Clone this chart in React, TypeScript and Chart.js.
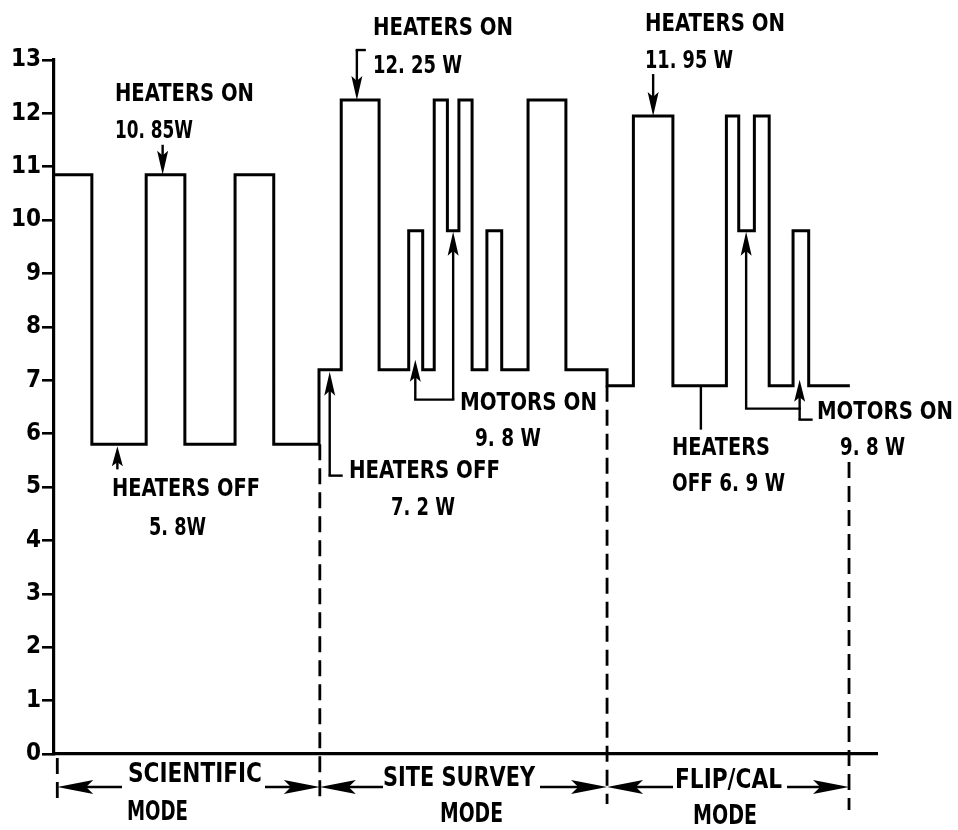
import React, { useEffect, useRef } from 'react';
import { Chart, registerables } from 'chart.js';

Chart.register(...registerables);

// ---------- DATA ----------
// Y axis tick labels (watts)
const Y_TICKS = [0, 1, 2, 3, 4, 5, 6, 7, 8, 9, 10, 11, 12, 13];

// Time (arbitrary units, 0..100) at which each power level begins
const STEP_TIMES = [
  0, 4.6, 11.2, 15.9, 22.0, 26.7,
  32.2, 34.9, 39.5, 43.1, 44.8, 46.2, 47.8, 49.2, 50.8, 52.6, 54.4, 57.6, 62.2,
  67.2, 70.4, 75.2, 81.7, 83.2, 85.1, 86.9, 89.8, 91.7, 96.7,
];

// Power level (W) beginning at each of the above times
const POWER_W = [
  10.85, 5.8, 10.85, 5.8, 10.85, 5.8,
  7.2, 12.25, 7.2, 9.8, 7.2, 12.25, 9.8, 12.25, 7.2, 9.8, 7.2, 12.25, 7.2,
  6.9, 11.95, 6.9, 11.95, 9.8, 11.95, 6.9, 9.8, 6.9, 6.9,
];

// Mode boundaries (time units) and names
const MODE_BOUNDS = [0.4, 32.3, 67.2, 96.6];
const MODE_NAMES = ['SCIENTIFIC', 'SITE SURVEY', 'FLIP/CAL'];
const MODE_SUB = 'MODE';

// Levels annotated
const HEATERS_ON_SCI = 10.85;
const HEATERS_OFF_SCI = 5.8;
const HEATERS_ON_SITE = 12.25;
const HEATERS_OFF_SITE = 7.2;
const MOTORS_ON = 9.8;
const HEATERS_ON_FLIP = 11.95;
const HEATERS_OFF_FLIP = 6.9;

const FONT = '"DejaVu Sans Condensed", "DejaVu Sans", sans-serif';

function fitText(ctx: CanvasRenderingContext2D, text: string, left: number, cy: number, width: number, size: number) {
  ctx.save();
  ctx.font = `bold ${size}px ${FONT}`;
  ctx.textBaseline = 'alphabetic';
  ctx.textAlign = 'left';
  const w = ctx.measureText(text).width;
  ctx.translate(left, cy + (size * 0.729) / 2);
  ctx.scale(width / w, 1);
  ctx.fillText(text, 0, 0);
  ctx.restore();
}

function poly(ctx: CanvasRenderingContext2D, pts: number[][]) {
  ctx.beginPath();
  ctx.moveTo(pts[0][0], pts[0][1]);
  for (let i = 1; i < pts.length; i++) ctx.lineTo(pts[i][0], pts[i][1]);
  ctx.stroke();
}

function arrow(ctx: CanvasRenderingContext2D, x1: number, y1: number, x2: number, y2: number, len: number, hw: number) {
  const a = Math.atan2(y2 - y1, x2 - x1);
  const c = Math.cos(a), s = Math.sin(a);
  poly(ctx, [[x1, y1], [x2 - c * len * 0.5, y2 - s * len * 0.5]]);
  const bx = x2 - c * len, by = y2 - s * len;
  const px = -s * hw, py = c * hw;
  ctx.beginPath();
  ctx.moveTo(x2, y2);
  ctx.lineTo(bx + px, by + py);
  ctx.lineTo(x2 - c * len * 0.8, y2 - s * len * 0.8);
  ctx.lineTo(bx - px, by - py);
  ctx.closePath();
  ctx.fill();
}

const annotationPlugin = {
  id: 'annotations',
  afterDraw(chart: any) {
    const ctx: CanvasRenderingContext2D = chart.ctx;
    const xs = chart.scales.x;
    const ys = chart.scales.y;
    const X = (t: number) => xs.getPixelForValue(t);
    const Y = (v: number) => ys.getPixelForValue(v);
    const bottom = chart.chartArea.bottom;
    ctx.save();
    ctx.strokeStyle = '#000';
    ctx.fillStyle = '#000';
    ctx.lineWidth = 2.4;
    ctx.lineCap = 'butt';

    const F = 25;
    const AL = 24, AW = 5.5;
    // 1. Scientific heaters on
    fitText(ctx, 'HEATERS ON', X(7.41), Y(12.40), 139, F);
    fitText(ctx, '10. 85W', X(7.41), Y(11.71), 78, F);
    arrow(ctx, X(13.2), Y(HEATERS_ON_SCI) - 30, X(13.2), Y(HEATERS_ON_SCI), AL, AW);
    // 2. Scientific heaters off
    fitText(ctx, 'HEATERS OFF', X(7.05), Y(5.0), 148, F);
    fitText(ctx, '5. 8W', X(11.54), Y(4.27), 57, F);
    arrow(ctx, X(7.7), Y(HEATERS_OFF_SCI) + 25, X(7.7), Y(HEATERS_OFF_SCI) + 2, 20, AW);
    // 3. Site survey heaters on
    fitText(ctx, 'HEATERS ON', X(38.76), Y(13.64), 140, F);
    fitText(ctx, '12. 25 W', X(38.76), Y(12.93), 89, F);
    poly(ctx, [[X(36.8) + 9, Y(HEATERS_ON_SITE) - 50], [X(36.8) - 1.2, Y(HEATERS_ON_SITE) - 50]]);
    arrow(ctx, X(36.8), Y(HEATERS_ON_SITE) - 50, X(36.8), Y(HEATERS_ON_SITE), AL, AW);
    // 4. Site survey heaters off
    fitText(ctx, 'HEATERS OFF', X(35.84), Y(5.34), 151, F);
    fitText(ctx, '7. 2 W', X(40.95), Y(4.65), 64, F);
    poly(ctx, [[X(33.5) + 13, Y(HEATERS_OFF_SITE) + 106], [X(33.5) - 1.2, Y(HEATERS_OFF_SITE) + 106]]);
    arrow(ctx, X(33.5), Y(HEATERS_OFF_SITE) + 106, X(33.5), Y(HEATERS_OFF_SITE) + 2, AL, AW);
    // 5. Site survey motors on
    fitText(ctx, 'MOTORS ON', X(49.33), Y(6.61), 137, F);
    fitText(ctx, '9. 8 W', X(51.15), Y(5.94), 66, F);
    poly(ctx, [[X(43.9) - 1.2, Y(HEATERS_OFF_SITE) + 30], [X(48.5) + 1.2, Y(HEATERS_OFF_SITE) + 30]]);
    arrow(ctx, X(43.9), Y(HEATERS_OFF_SITE) + 30, X(43.9), Y(HEATERS_OFF_SITE) - 10, 22, AW);
    arrow(ctx, X(48.5), Y(HEATERS_OFF_SITE) + 30, X(48.5), Y(MOTORS_ON) + 1, AL, AW);
    // 6. Flip/cal heaters on
    fitText(ctx, 'HEATERS ON', X(71.81), Y(13.71), 140, F);
    fitText(ctx, '11. 95 W', X(71.81), Y(13.02), 88, F);
    arrow(ctx, X(72.8), Y(HEATERS_ON_FLIP) - 42, X(72.8), Y(HEATERS_ON_FLIP), AL, AW);
    // 7. Flip/cal heaters off
    fitText(ctx, 'HEATERS', X(75.09), Y(5.77), 98, F);
    fitText(ctx, 'OFF 6. 9 W', X(75.09), Y(5.10), 113, F);
    poly(ctx, [[X(78.6), Y(HEATERS_OFF_FLIP)], [X(78.6), Y(HEATERS_OFF_FLIP) + 44]]);
    // 8. Flip/cal motors on
    fitText(ctx, 'MOTORS ON', X(92.71), Y(6.44), 136, F);
    fitText(ctx, '9. 8 W', X(95.5), Y(5.77), 65, F);
    poly(ctx, [[X(84.1) - 1.2, Y(HEATERS_OFF_FLIP) + 23], [X(90.6) + 1.2, Y(HEATERS_OFF_FLIP) + 23]]);
    arrow(ctx, X(84.1), Y(HEATERS_OFF_FLIP) + 23, X(84.1), Y(MOTORS_ON) + 1, AL, AW);
    poly(ctx, [[X(90.6) - 1.2, Y(HEATERS_OFF_FLIP) + 34], [X(90.6) + 13, Y(HEATERS_OFF_FLIP) + 34]]);
    arrow(ctx, X(90.6), Y(HEATERS_OFF_FLIP) + 34, X(90.6), Y(HEATERS_OFF_FLIP) - 6, 22, AW);

    // Dashed mode boundaries
    ctx.lineWidth = 2.8;
    ctx.setLineDash([16, 8]);
    poly(ctx, [[X(MODE_BOUNDS[0]), bottom + 4], [X(MODE_BOUNDS[0]), bottom + 50]]);
    poly(ctx, [[X(MODE_BOUNDS[1]), Y(HEATERS_OFF_SCI)], [X(MODE_BOUNDS[1]), bottom + 50]]);
    poly(ctx, [[X(MODE_BOUNDS[2]), Y(HEATERS_OFF_FLIP)], [X(MODE_BOUNDS[2]), bottom + 50]]);
    poly(ctx, [[X(MODE_BOUNDS[3]), Y(5.47)], [X(MODE_BOUNDS[3]), bottom + 56]]);
    ctx.setLineDash([]);

    // Mode labels with arrows
    const FB = 27;
    const nameLayout = [
      { l: 8.99, w: 134, cy: 18, gl: 6, gr: 3 },
      { l: 39.98, w: 152, cy: 22, gl: 0, gr: 5 },
      { l: 75.46, w: 107, cy: 24, gl: 2, gr: 5 },
    ];
    const subLayout = [
      { l: 8.87, w: 61, cy: 56 },
      { l: 46.9, w: 63, cy: 58 },
      { l: 77.64, w: 64, cy: 60 },
    ];
    const ay = bottom + 33;
    ctx.lineWidth = 2.6;
    MODE_NAMES.forEach((name, i) => {
      const nl = nameLayout[i];
      const left = X(nl.l);
      fitText(ctx, name, left, bottom + nl.cy, nl.w, FB);
      fitText(ctx, MODE_SUB, X(subLayout[i].l), bottom + subLayout[i].cy, subLayout[i].w, FB);
      arrow(ctx, left - nl.gl, ay, X(MODE_BOUNDS[i]), ay, 36, 7);
      arrow(ctx, left + nl.w + nl.gr, ay, X(MODE_BOUNDS[i + 1]), ay, 36, 7);
    });
    ctx.restore();
  },
};

export default function App() {
  const ref = useRef<HTMLCanvasElement | null>(null);
  useEffect(() => {
    document.body.style.margin = '0';
    const canvas = ref.current!;
    const chart = new Chart(canvas, {
      type: 'line',
      data: {
        datasets: [
          {
            data: STEP_TIMES.map((t, i) => ({ x: t, y: POWER_W[i] })),
            stepped: 'before',
            borderColor: '#000',
            borderWidth: 3,
            pointRadius: 0,
            fill: false,
            tension: 0,
          },
        ],
      },
      options: {
        animation: false,
        responsive: false,
        devicePixelRatio: 1,
        layout: { padding: { left: 0, top: 60, right: 81, bottom: 76 } },
        plugins: { legend: { display: false }, tooltip: { enabled: false } },
        scales: {
          x: {
            type: 'linear',
            min: 0,
            max: 100,
            grid: { display: false },
            ticks: { display: false },
            border: { display: true, color: '#000', width: 3.2 },
            afterFit: (s: any) => { s.height = 0; },
          },
          y: {
            type: 'linear',
            min: 0,
            max: 13,
            afterBuildTicks: (s: any) => { s.ticks = Y_TICKS.map((v) => ({ value: v })); },
            grid: { display: true, drawOnChartArea: false, drawTicks: true, tickLength: 12, color: '#000', lineWidth: 2.6 },
            border: { display: true, color: '#000', width: 3.2 },
            ticks: { color: '#000', padding: 1, font: { family: FONT, size: 24, weight: 'bold' } },
            afterFit: (s: any) => { s.width = 54; },
          },
        },
      },
      plugins: [annotationPlugin],
    });
    return () => chart.destroy();
  }, []);
  return (
    <div style={{ position: 'fixed', left: 0, top: 0, width: 958, height: 830, background: '#fff' }}>
      <canvas ref={ref} width={958} height={830} />
    </div>
  );
}
